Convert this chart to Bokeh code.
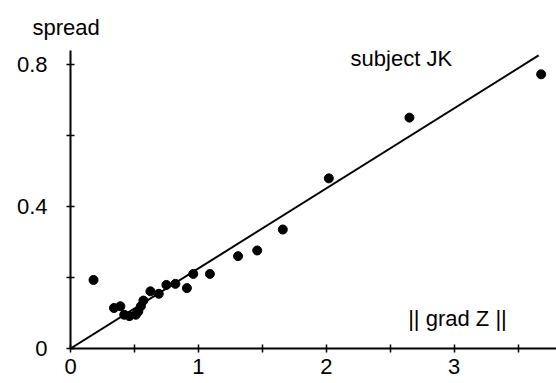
from bokeh.plotting import figure
from bokeh.models import FixedTicker, Label
from bokeh.embed import file_html
from bokeh.resources import INLINE

# data
grad_z = [0.18, 0.34, 0.39, 0.42, 0.46, 0.51, 0.53, 0.55, 0.57, 0.625, 0.69,
          0.75, 0.82, 0.91, 0.96, 1.09, 1.31, 1.46, 1.66, 2.02, 2.65, 3.68]
spread = [0.193, 0.114, 0.119, 0.095, 0.091, 0.095, 0.104, 0.119, 0.135, 0.161, 0.154,
          0.179, 0.182, 0.170, 0.210, 0.210, 0.260, 0.276, 0.335, 0.479, 0.650, 0.772]
fit_x = [0.0, 3.66]
fit_y = [0.0, 0.825]
x_major = [0, 1, 2, 3]
x_minor = [0.5, 1.5, 2.5, 3.5]
y_major = [0, 0.4, 0.8]
y_minor = [0.2, 0.6]
y_labels = {0: "0", 0.4: "0.4", 0.8: "0.8"}

FONT = "Liberation Sans"
FS = "22px"

p = figure(width=556, height=383, x_range=(0, 3.80), y_range=(0, 0.839),
           output_backend="svg", toolbar_location=None,
           min_border_left=70, min_border_right=0, min_border_top=50, min_border_bottom=35)
p.grid.visible = False
p.outline_line_color = None
p.background_fill_color = "white"
p.border_fill_color = "white"

p.title.text = "spread"
p.title.align = "left"
p.title.offset = -38
p.title.standoff = 22
p.title.text_font = FONT
p.title.text_font_size = FS
p.title.text_font_style = "normal"
p.title.text_color = "black"

def style(ax):
    ax.axis_line_width = 2
    ax.axis_line_color = "black"
    ax.major_tick_in = 4
    ax.major_tick_out = 4
    ax.minor_tick_in = 4
    ax.minor_tick_out = 4
    ax.major_tick_line_width = 1.5
    ax.minor_tick_line_width = 1.5
    ax.major_label_text_font = FONT
    ax.major_label_text_font_size = FS
    ax.major_label_text_color = "black"

xa = p.xaxis[0]
xa.ticker = FixedTicker(ticks=x_major, minor_ticks=x_minor)
style(xa)
xa.major_label_standoff = 6

ya = p.yaxis[0]
ya.ticker = FixedTicker(ticks=y_major, minor_ticks=y_minor)
style(ya)
ya.major_label_standoff = 19
ya.major_label_overrides = y_labels

p.line(fit_x, fit_y, line_color="black", line_width=2)
p.scatter(grad_z, spread, size=9, fill_color="black", line_color="black")

p.add_layout(Label(x=2.19, y=0.78, text="subject JK", text_font=FONT, text_font_size=FS,
                   text_color="black"))
p.add_layout(Label(x=2.64, y=0.05, text="|| grad Z ||", text_font=FONT, text_font_size=FS,
                   text_color="black"))

open("out.html", "w").write(file_html(p, INLINE))
